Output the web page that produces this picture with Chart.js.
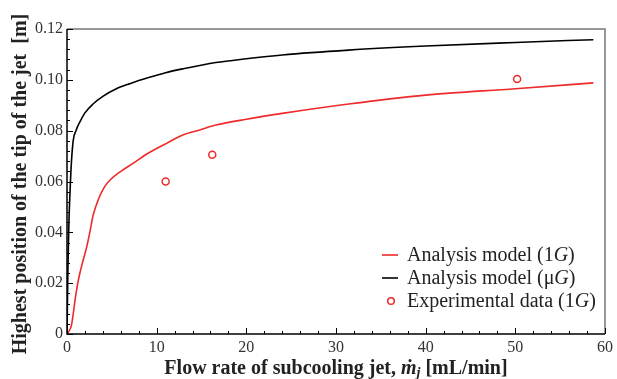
<!DOCTYPE html>
<html><head><meta charset="utf-8">
<style>html,body{margin:0;padding:0;background:#fff}#wrap{width:617px;height:379px}</style>
<script src="https://cdn.jsdelivr.net/npm/chart.js@4/dist/chart.umd.min.js"></script>
</head><body><div id="wrap"><canvas id="c" width="617" height="379"></canvas></div>
<script>
const xTicks = [0, 10, 20, 30, 40, 50, 60];
const yTicks = [0, 0.02, 0.04, 0.06, 0.08, 0.10, 0.12];
const seriesNames = ["Analysis model (1G)", "Analysis model (\u03bcG)", "Experimental data (1G)"];
const redX = [0, 0.2, 0.5, 0.7, 0.9, 1.2, 1.44, 1.8, 2.2, 2.6, 2.9, 3.5, 4.2, 4.8, 6, 7.4, 9, 11.1, 12.9, 14.8, 16.6, 20, 24, 31.4, 40, 50, 58.7];
const redY = [0, 0.001, 0.0035, 0.008, 0.0134, 0.02, 0.024, 0.029, 0.0343, 0.041, 0.0465, 0.053, 0.058, 0.0606, 0.064, 0.0672, 0.071, 0.075, 0.0783, 0.0803, 0.0822, 0.0845, 0.0868, 0.0905, 0.094, 0.0965, 0.0988];
const blackX = [0, 0.1, 0.2, 0.35, 0.5, 0.7, 1.0, 1.44, 2.0, 2.9, 4, 5.5, 7, 9.2, 11, 12.9, 16.6, 20, 24, 31.4, 40, 50, 58.7];
const blackY = [0, 0.025, 0.042, 0.057, 0.068, 0.0763, 0.080, 0.0835, 0.087, 0.0905, 0.0935, 0.0965, 0.0985, 0.101, 0.1028, 0.1043, 0.1068, 0.1083, 0.1098, 0.1117, 0.1133, 0.1147, 0.1158];
const expX = [11, 16.2, 50.2];
const expY = [0.060, 0.0705, 0.1003];

const toPts = (xs, ys) => xs.map((x, i) => ({x: x, y: ys[i]}));
const SERIF = "'Liberation Serif', 'DejaVu Serif', serif";
const RED = '#ee2a2a';

const deco = {
  id: 'deco',
  afterDraw(chart) {
    const ctx = chart.ctx, a = chart.chartArea;
    const xs = chart.scales.x, ys = chart.scales.y;
    ctx.save();
    // frame
    ctx.lineWidth = 1.5;
    ctx.strokeStyle = '#777';
    ctx.beginPath(); ctx.moveTo(a.left, a.top); ctx.lineTo(a.right, a.top); ctx.lineTo(a.right, a.bottom); ctx.stroke();
    ctx.strokeStyle = '#000';
    ctx.beginPath(); ctx.moveTo(a.left, a.top); ctx.lineTo(a.left, a.bottom); ctx.lineTo(a.right, a.bottom); ctx.stroke();
    // ticks (inward)
    ctx.lineWidth = 1;
    for (let v = 0; v <= 60.001; v += 2) {
      const p = Math.round(xs.getPixelForValue(v)) + 0.5;
      const major = Math.abs(v % 10) < 1e-6;
      ctx.beginPath(); ctx.moveTo(p, a.bottom); ctx.lineTo(p, a.bottom - (major ? 6 : 3)); ctx.stroke();
    }
    for (let k = 0; k <= 30; k++) {
      const v = k * 0.004;
      const p = Math.round(ys.getPixelForValue(v)) + 0.5;
      const major = k % 5 === 0;
      ctx.beginPath(); ctx.moveTo(a.left, p); ctx.lineTo(a.left + (major ? 6 : 3), p); ctx.stroke();
    }
    // x title
    const parts = [
      ['bold 20px ' + SERIF, 'Flow rate of subcooling jet, ', 0],
      ['bold italic 20px ' + SERIF, '\u1e41', 0],
      ['bold italic 14px ' + SERIF, 'j', 3],
      ['bold 20px ' + SERIF, ' [mL/min]', 0]
    ];
    let total = 0;
    parts.forEach(p => { ctx.font = p[0]; total += ctx.measureText(p[1]).width; });
    let x = (a.left + a.right) / 2 - total / 2;
    ctx.fillStyle = '#222';
    ctx.textBaseline = 'alphabetic';
    ctx.textAlign = 'left';
    parts.forEach(p => { ctx.font = p[0]; ctx.fillText(p[1], x, 374 + p[2]); x += ctx.measureText(p[1]).width; });
    // y title
    ctx.save();
    ctx.translate(26, 184);
    ctx.rotate(-Math.PI / 2);
    ctx.font = 'bold 20px ' + SERIF;
    ctx.textAlign = 'center';
    ctx.fillText('Highest position of the tip of the jet  [m]', 0, 0);
    ctx.restore();
    // legend
    const lx = 382, rows = [255, 278, 301];
    rows.forEach((ry, i) => {
      if (i < 2) {
        ctx.strokeStyle = i === 0 ? RED : '#000';
        ctx.lineWidth = 1.6;
        ctx.beginPath(); ctx.moveTo(lx, ry); ctx.lineTo(lx + 16, ry); ctx.stroke();
      } else {
        ctx.strokeStyle = RED; ctx.lineWidth = 1.5;
        ctx.beginPath(); ctx.arc(lx + 9, ry, 3.3, 0, Math.PI * 2); ctx.stroke();
      }
      const name = seriesNames[i];
      const m = name.match(/^(.*)G\)$/);
      let tx = lx + 25;
      ctx.fillStyle = '#222';
      ctx.textBaseline = 'middle';
      ctx.font = '20px ' + SERIF;
      ctx.fillText(m[1], tx, ry + 1); tx += ctx.measureText(m[1]).width;
      ctx.font = 'italic 20px ' + SERIF;
      ctx.fillText('G', tx, ry + 1); tx += ctx.measureText('G').width;
      ctx.font = '20px ' + SERIF;
      ctx.fillText(')', tx, ry + 1);
    });
    ctx.restore();
  }
};

new Chart(document.getElementById('c'), {
  type: 'scatter',
  data: {
    datasets: [
      {label: seriesNames[0], data: toPts(redX, redY), showLine: true, borderColor: RED, borderWidth: 1.6, pointRadius: 0, cubicInterpolationMode: 'monotone'},
      {label: seriesNames[1], data: toPts(blackX, blackY), showLine: true, borderColor: '#000', borderWidth: 1.6, pointRadius: 0, cubicInterpolationMode: 'monotone'},
      {label: seriesNames[2], data: toPts(expX, expY), showLine: false, borderColor: RED, backgroundColor: '#fff', borderWidth: 1.5, pointRadius: 3.5, pointStyle: 'circle'}
    ]
  },
  options: {
    responsive: false, animation: false,
    layout: {padding: {left: 0, right: 10, top: 29, bottom: 0}},
    plugins: {legend: {display: false}, tooltip: {enabled: false}},
    scales: {
      x: {
        type: 'linear', min: 0, max: 60,
        afterBuildTicks: s => { s.ticks = xTicks.map(v => ({value: v})); },
        afterFit: s => { s.height = 45; },
        grid: {display: false, drawTicks: false},
        border: {display: false},
        ticks: {font: {family: SERIF, size: 16}, color: '#333', padding: 4, maxRotation: 0, callback: v => String(v)}
      },
      y: {
        type: 'linear', min: 0, max: 0.12,
        afterBuildTicks: s => { s.ticks = yTicks.map(v => ({value: v})); },
        afterFit: s => { s.width = 67; },
        grid: {display: false, drawTicks: false},
        border: {display: false},
        ticks: {font: {family: SERIF, size: 16}, color: '#333', padding: 4, callback: v => v === 0 ? '0' : Number(v).toFixed(2)}
      }
    }
  },
  plugins: [deco]
});
</script></body></html>
